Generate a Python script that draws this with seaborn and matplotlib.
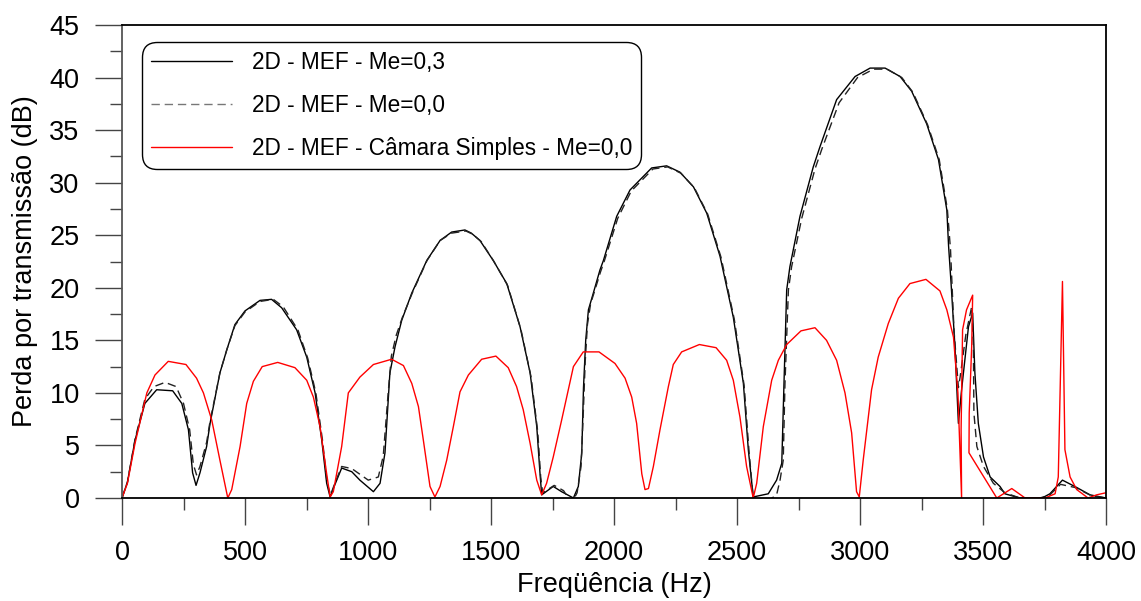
import numpy as np
import pandas as pd
import seaborn as sns
import matplotlib
matplotlib.use("Agg")
import matplotlib.pyplot as plt
from matplotlib.ticker import MultipleLocator

# ---- data ----
freq_me03 = [0, 22, 53, 93, 141, 206, 243, 270, 287, 301, 317, 344, 358, 398, 426, 459, 500, 561, 608, 649,
             710, 751, 785, 812, 832, 846, 859, 893, 934, 967, 1022, 1049, 1069, 1089, 1110, 1137, 1178, 1239,
             1293, 1340, 1394, 1420, 1455, 1509, 1564, 1618, 1659, 1686, 1699, 1706, 1753, 1787, 1835, 1855,
             1869, 1876, 1885, 1896, 1916, 1943, 1957, 2011, 2065, 2153, 2214, 2268, 2323, 2377, 2431, 2485,
             2526, 2546, 2566, 2627, 2661, 2682, 2691, 2702, 2715, 2756, 2810, 2837, 2905, 2980, 3041, 3102,
             3163, 3210, 3271, 3319, 3353, 3360, 3370, 3386, 3400, 3413, 3441, 3458, 3467, 3481, 3502, 3529,
             3569, 3589, 3650, 3740, 3772, 3823, 3881, 3935, 4000]
tl_me03 = [0, 1.5, 5.5, 9.0, 10.3, 10.2, 9.0, 6.5, 2.4, 1.2, 2.4, 4.9, 7.1, 11.9, 14.1, 16.5, 17.8, 18.8, 18.9, 18.1,
           16.0, 13.4, 10.0, 5.5, 1.4, 0.1, 0.9, 2.85, 2.5, 1.7, 0.6, 1.4, 4.3, 11.9, 14.4, 16.9, 19.5, 22.6,
           24.5, 25.3, 25.5, 25.2, 24.5, 22.6, 20.4, 16.3, 11.9, 6.8, 2.4, 0.3, 1.1, 0.6, 0.0, 1.1,
           4.3, 10.5, 15.0, 17.9, 19.5, 21.7, 22.6, 26.8, 29.3, 31.4, 31.6, 31.0, 29.6, 27.1, 23.0, 17.2,
           10.9, 4.6, 0.1, 0.4, 1.7, 3.3, 10.9, 19.8, 22.0, 26.8, 31.5, 33.4, 37.9, 40.1, 40.9, 40.9,
           40.1, 38.7, 35.6, 32.2, 27.4, 24.0, 20.5, 14.4, 7.1, 10.3, 16.3, 17.6, 11.9, 7.1, 3.9, 2.0,
           1.1, 0.4, 0.0, 0.0, 0.4, 1.7, 1.0, 0.3, 0.0]

freq_me00 = [0, 22, 53, 93, 130, 175, 220, 250, 275, 290, 303, 317, 344, 358, 398, 426, 459, 500, 561, 615,
             655, 715, 755, 788, 815, 834, 848, 862, 893, 934, 1001, 1042, 1062, 1082, 1095, 1115, 1140, 1180,
             1240, 1293, 1340, 1398, 1425, 1460, 1512, 1568, 1622, 1663, 1690, 1702, 1710, 1757, 1795, 1828,
             1850, 1866, 1875, 1883, 1892, 1905, 1920, 1945, 1960, 2015, 2070, 2158, 2218, 2272, 2327, 2381,
             2435, 2489, 2529, 2549, 2566, 2600, 2627, 2661, 2675, 2688, 2695, 2709, 2722, 2763, 2817, 2845,
             2915, 2990, 3055, 3110, 3170, 3215, 3275, 3322, 3355, 3368, 3382, 3400, 3407, 3430, 3454, 3461,
             3463, 3475, 3502, 3542, 3589, 3650, 3718, 3772, 3815, 3874, 3942, 4000]
tl_me00 = [0, 1.5, 5.6, 9.4, 10.6, 11.0, 10.6, 9.0, 6.5, 3.2, 2.2, 3.0, 5.3, 7.3, 11.9, 14.1, 16.4, 17.7, 18.7, 18.9,
           18.2, 16.0, 13.3, 10.0, 5.5, 1.4, 0.3, 1.2, 3.0, 2.8, 1.7, 2.0, 4.0, 10.0, 13.5, 15.5, 17.2, 19.5,
           22.6, 24.5, 25.2, 25.4, 25.1, 24.4, 22.5, 20.2, 16.0, 11.5, 6.3, 2.0, 0.5, 1.2, 0.7, -0.5,
           0.5, 3.0, 8.0, 13.0, 16.5, 18.5, 19.6, 21.5, 22.5, 26.6, 29.2, 31.3, 31.5, 30.9, 29.5, 27.0,
           22.9, 17.0, 10.7, 4.4, 0.0, -0.2, -0.25, 0.3, 1.7, 3.6, 10.9, 19.8, 22.0, 26.6, 31.3, 33.2,
           37.6, 40.0, 40.8, 40.8, 40.0, 38.6, 35.5, 32.2, 27.5, 23.6, 16.0, 10.5, 11.5, 15.5, 18.2, 14.4,
           8.1, 4.9, 3.0, 1.4, 0.5, 0.0, -0.1, 0.3, 1.3, 1.0, 0.2, 0.0]

freq_simples = [0, 22, 53, 101, 134, 188, 260, 303, 331, 365, 398, 430, 446, 480, 507, 534, 570, 633, 703, 751,
                778, 805, 832, 846, 859, 893, 920, 967, 1022, 1096, 1144, 1178, 1205, 1225, 1252, 1272, 1293,
                1320, 1347, 1374, 1408, 1462, 1520, 1570, 1604, 1631, 1659, 1686, 1706, 1726, 1753, 1787, 1835,
                1875, 1939, 2004, 2045, 2072, 2092, 2113, 2126, 2140, 2160, 2187, 2221, 2241, 2275, 2347, 2415,
                2458, 2485, 2512, 2539, 2566, 2580, 2607, 2641, 2668, 2702, 2760, 2817, 2864, 2905, 2939, 2966,
                2986, 2997, 3013, 3047, 3074, 3115, 3156, 3203, 3268, 3325, 3353, 3380, 3398, 3413, 3411, 3417,
                3433, 3458, 3454, 3444, 3443, 3556, 3617, 3671, 3752, 3793, 3806, 3823, 3833, 3854, 3881, 3927,
                3962, 4000]
tl_simples = [0, 1.4, 5.2, 10.0, 11.7, 13.0, 12.7, 11.4, 10.0, 7.4, 3.6, 0.0, 0.8, 4.9, 9.0, 11.1, 12.5, 12.9, 12.4, 11.2,
              9.6, 6.8, 2.3, 0.1, 0.6, 4.9, 10.0, 11.5, 12.7, 13.2, 12.6, 10.9, 8.7, 5.5, 1.1, 0.1, 1.1,
              3.6, 6.8, 10.1, 11.7, 13.2, 13.5, 12.4, 10.6, 8.4, 5.2, 1.7, 0.3, 1.4, 3.9, 7.4, 12.5,
              13.9, 13.9, 12.8, 11.4, 9.6, 7.1, 2.3, 0.8, 0.9, 3.0, 6.5, 10.6, 12.7, 13.9, 14.6, 14.3,
              13.1, 11.2, 7.7, 3.0, 0.0, 1.4, 6.8, 11.2, 13.1, 14.6, 15.9, 16.2, 15.0, 13.1, 10.0, 6.2,
              0.6, 0.1, 3.6, 10.3, 13.4, 16.6, 19.0, 20.4, 20.8, 19.7, 17.9, 15.3, 10.0, 0.0, 6.5, 16.0,
              17.9, 19.3, 14.4, 8.1, 4.3, 0.0, 0.9, 0.0, 0.0, 0.4, 2.0, 20.6, 4.6, 2.0, 0.8, 0.0,
              0.3, 0.5]

labels = ["2D - MEF - Me=0,3", "2D - MEF - Me=0,0", "2D - MEF - Câmara Simples - Me=0,0"]
xticks = [0, 500, 1000, 1500, 2000, 2500, 3000, 3500, 4000]
yticks = [0, 5, 10, 15, 20, 25, 30, 35, 40, 45]

# ---- style ----
sns.set_theme(style="ticks")
plt.rcParams["font.family"] = ["Liberation Sans", "DejaVu Sans"]
plt.rcParams["text.color"] = "black"
plt.rcParams["axes.labelcolor"] = "black"
plt.rcParams["xtick.color"] = "black"
plt.rcParams["ytick.color"] = "black"

fig = plt.figure(figsize=(11.41, 6.01), dpi=100)
ax = fig.add_axes([122 / 1141, 1 - 498 / 601, 984 / 1141, 473 / 601])

sns.lineplot(x=freq_me03, y=tl_me03, ax=ax, sort=False, estimator=None,
             color="black", lw=1.0, label=labels[0])
sns.lineplot(x=freq_me00, y=tl_me00, ax=ax, sort=False, estimator=None,
             color="#222222", lw=1.0, label=labels[1], dashes=False)
ax.lines[-1].set_dashes((6, 3.5))
sns.lineplot(x=freq_simples, y=tl_simples, ax=ax, sort=False, estimator=None,
             color="#ff0000", lw=1.0, label=labels[2])

ax.set_xlim(0, 4000)
ax.set_ylim(0, 45)
ax.set_xticks(xticks)
ax.set_yticks(yticks)
ax.xaxis.set_minor_locator(MultipleLocator(250))
ax.yaxis.set_minor_locator(MultipleLocator(2.5))
ax.tick_params(axis="both", which="major", direction="out", length=19.5, width=1.0,
               color="#444444", labelsize=19.5, pad=11, labelcolor="black")
ax.tick_params(axis="both", which="minor", direction="out", length=8.6, width=1.0, color="#444444")
ax.tick_params(top=False, right=False, which="both")
for s in ax.spines.values():
    s.set_visible(True)
    s.set_color("black")
    s.set_linewidth(1.3)
ax.spines["left"].set_color("#555555")
ax.set_xlabel("Freqüência (Hz)", fontsize=19.5, labelpad=4, color="black")
ax.set_ylabel("Perda por transmissão (dB)", fontsize=19.5, labelpad=8, color="black")
ax.set_facecolor("white")
fig.patch.set_facecolor("white")

leg = ax.legend(loc="upper left", bbox_to_anchor=(0.0203, 0.964), borderaxespad=0,
                fontsize=16.3, handlelength=3.6, handletextpad=0.88, labelspacing=0.9,
                borderpad=0.38, frameon=True, fancybox=True, framealpha=1,
                edgecolor="black", facecolor="white")
for t in leg.get_texts():
    t.set_color("black")
leg.get_frame().set_linewidth(1.0)
leg.get_frame().set_boxstyle("round,pad=0,rounding_size=0.65")
leg.legend_handles[1].set_dashes((6, 3.5))
leg.legend_handles[1].set_color("#777777")

fig.savefig("out.png", dpi=100, facecolor="white")
